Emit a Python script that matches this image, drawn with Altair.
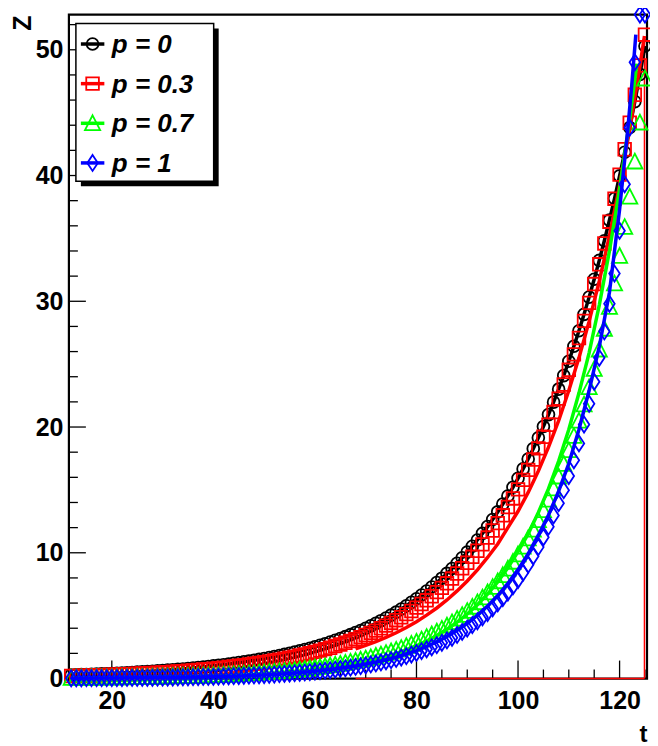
import altair as alt
import pandas as pd

# ---------------- data ----------------
T = list(range(12, 126))

black_z = [0.28, 0.29, 0.31, 0.32, 0.33, 0.35, 0.37, 0.38, 0.40, 0.42,
           0.44, 0.46, 0.48, 0.51, 0.53, 0.55, 0.58, 0.61, 0.64, 0.67,
           0.70, 0.73, 0.76, 0.80, 0.84, 0.88, 0.92, 0.96, 1.01, 1.05,
           1.10, 1.15, 1.21, 1.27, 1.33, 1.39, 1.45, 1.52, 1.59, 1.67,
           1.75, 1.83, 1.92, 2.01, 2.10, 2.20, 2.30, 2.41, 2.53, 2.65,
           2.77, 2.90, 3.04, 3.18, 3.33, 3.49, 3.65, 3.82, 4.00, 4.19,
           4.39, 4.60, 4.81, 5.04, 5.28, 5.53, 5.79, 6.06, 6.34, 6.64,
           6.96, 7.28, 7.63, 7.98, 8.36, 8.75, 9.17, 9.60, 10.05, 10.52,
           11.02, 11.54, 12.08, 12.65, 13.25, 13.87, 14.52, 15.21, 15.92, 16.67,
           17.46, 18.28, 19.14, 20.04, 20.99, 21.98, 23.01, 24.09, 25.23, 26.42,
           27.66, 28.96, 30.33, 31.75, 33.25, 34.81, 36.45, 38.17, 39.97, 41.85,
           43.82, 45.88, 48.04, 50.30]

red_z = [0.20, 0.21, 0.22, 0.23, 0.24, 0.26, 0.27, 0.28, 0.30, 0.31,
         0.33, 0.34, 0.36, 0.38, 0.40, 0.42, 0.44, 0.46, 0.49, 0.51,
         0.54, 0.56, 0.59, 0.62, 0.65, 0.68, 0.72, 0.75, 0.79, 0.83,
         0.87, 0.92, 0.96, 1.01, 1.06, 1.12, 1.17, 1.23, 1.30, 1.36,
         1.43, 1.50, 1.58, 1.66, 1.74, 1.83, 1.92, 2.01, 2.12, 2.22,
         2.34, 2.45, 2.58, 2.70, 2.84, 2.98, 3.13, 3.29, 3.46, 3.63,
         3.81, 4.00, 4.21, 4.42, 4.64, 4.87, 5.12, 5.37, 5.64, 5.93,
         6.22, 6.54, 6.87, 7.21, 7.57, 7.95, 8.35, 8.77, 9.21, 9.68,
         10.16, 10.67, 11.21, 11.77, 12.36, 12.98, 13.64, 14.32, 15.04, 15.80,
         16.59, 17.42, 18.30, 19.22, 20.18, 21.19, 22.26, 23.38, 24.55, 25.78,
         27.08, 28.44, 29.87, 31.37, 32.94, 34.60, 36.33, 38.16, 40.07, 42.09,
         44.20, 46.42, 48.75, 51.20]

green_z = [0.04, 0.05, 0.05, 0.05, 0.06, 0.06, 0.07, 0.07, 0.07, 0.08,
           0.08, 0.09, 0.09, 0.10, 0.11, 0.11, 0.12, 0.13, 0.14, 0.15,
           0.16, 0.17, 0.18, 0.19, 0.20, 0.21, 0.22, 0.24, 0.25, 0.27,
           0.29, 0.30, 0.32, 0.34, 0.37, 0.39, 0.41, 0.44, 0.47, 0.50,
           0.53, 0.56, 0.59, 0.63, 0.67, 0.71, 0.76, 0.81, 0.86, 0.91,
           0.97, 1.03, 1.09, 1.16, 1.24, 1.32, 1.40, 1.49, 1.58, 1.68,
           1.79, 1.90, 2.02, 2.15, 2.28, 2.42, 2.58, 2.74, 2.91, 3.09,
           3.29, 3.50, 3.72, 3.95, 4.20, 4.46, 4.74, 5.04, 5.36, 5.69,
           6.05, 6.43, 6.84, 7.27, 7.72, 8.21, 8.73, 9.27, 9.86, 10.48,
           11.13, 11.83, 12.58, 13.37, 14.21, 15.10, 16.05, 17.06, 18.14, 19.28,
           20.49, 21.78, 23.15, 24.60, 26.15, 27.80, 29.54, 31.40, 33.60, 35.90,
           38.30, 41.10, 44.20, 47.70]

blue_z = [0.02, 0.02, 0.02, 0.03, 0.03, 0.03, 0.03, 0.03, 0.04, 0.04,
          0.04, 0.05, 0.05, 0.05, 0.06, 0.06, 0.06, 0.07, 0.07, 0.08,
          0.08, 0.09, 0.10, 0.10, 0.11, 0.12, 0.13, 0.13, 0.14, 0.15,
          0.17, 0.18, 0.19, 0.20, 0.22, 0.23, 0.25, 0.26, 0.28, 0.30,
          0.32, 0.34, 0.37, 0.39, 0.42, 0.45, 0.48, 0.51, 0.54, 0.58,
          0.62, 0.66, 0.71, 0.76, 0.81, 0.86, 0.92, 0.98, 1.05, 1.12,
          1.20, 1.28, 1.37, 1.46, 1.56, 1.67, 1.78, 1.91, 2.04, 2.18,
          2.32, 2.48, 2.65, 2.84, 3.03, 3.24, 3.47, 3.71, 3.97, 4.25,
          4.55, 4.87, 5.21, 5.58, 5.97, 6.39, 6.84, 7.32, 7.83, 8.42,
          9.05, 9.72, 10.45, 11.23, 12.07, 12.97, 13.94, 14.98, 16.10, 17.35,
          18.70, 20.20, 21.85, 23.60, 25.50, 27.60, 29.80, 32.20, 35.60, 39.30,
          43.80, 49.00, 52.80, 52.80]

# fitted curves
black_line_t = T
black_line_z = black_z

red_line_t = [68, 70, 72, 74, 76, 78, 80, 82, 84, 86, 88, 90, 92, 94, 96, 98, 100,
              102, 104, 106, 108, 110, 112, 114, 116, 118, 120, 122, 124, 124.9]
red_line_z = [2.37, 2.64, 2.94, 3.27, 3.64, 4.06, 4.52, 5.04, 5.61, 6.25, 6.97, 7.76,
              8.64, 9.63, 10.7, 12.0, 13.3, 14.8, 16.5, 18.4, 20.5, 22.9, 25.5, 28.4,
              31.6, 35.2, 39.2, 43.7, 48.7, 51.1]

green_line_t = [12, 20, 30, 40, 44, 48, 52, 56, 60, 64, 68, 72, 76, 80, 82, 84, 86, 88,
                90, 92, 94, 96, 98, 100, 102, 104, 106, 108, 110, 112, 114, 116, 118,
                120, 122, 123.4]
green_line_z = [0.03, 0.05, 0.09, 0.18, 0.23, 0.30, 0.39, 0.52, 0.68, 0.89, 1.16, 1.52,
                1.99, 2.61, 2.99, 3.42, 3.92, 4.48, 5.13, 5.87, 6.72, 7.69, 8.80, 10.1,
                11.5, 13.2, 15.1, 17.3, 19.8, 22.7, 25.9, 29.7, 34.0, 38.9, 44.5, 48.9]

blue_line_t = [12, 20, 30, 40, 44, 48, 52, 56, 60, 64, 68, 72, 76, 80, 82, 84, 86, 88,
               90, 92, 94, 96, 98, 100, 102, 104, 106, 108, 110, 112, 114, 116, 118,
               120, 121.6, 122.4, 123.2]
blue_line_z = [0.022, 0.038, 0.076, 0.15, 0.19, 0.25, 0.33, 0.43, 0.57, 0.75, 0.98, 1.29,
               1.69, 2.22, 2.55, 2.92, 3.34, 3.83, 4.39, 5.03, 5.76, 6.60, 7.56, 8.66,
               9.92, 11.4, 13.0, 14.9, 17.1, 19.8, 22.9, 26.4, 30.7, 37.3, 43.6, 47.2, 51.2]

labels = ["p = 0", "p = 0.3", "p = 0.7", "p = 1"]
colors = ["#000000", "#ff0000", "#00ff00", "#0000ff"]

x_major = [20, 40, 60, 80, 100, 120]
x_minor = [15, 25, 30, 35, 45, 50, 55, 65, 70, 75, 85, 90, 95, 105, 110, 115, 125]
y_major = [0, 10, 20, 30, 40, 50]
y_minor = [2, 4, 6, 8, 12, 14, 16, 18, 22, 24, 26, 28, 32, 34, 36, 38, 42, 44, 46, 48, 52]

# ---------------- styling ----------------
FONT = "Liberation Sans"
W, H = 579, 665
XMIN, XMAX = 11.55, 125.4
YMIN, YMAX = 0, 52.8

xs = alt.Scale(domain=[XMIN, XMAX], nice=False, zero=False)
ys = alt.Scale(domain=[YMIN, YMAX], nice=False, zero=False)

shapes = [
    ("circle", 140),
    ("square", 160),
    ("M0,-1L0.95,0.85L-0.95,0.85Z", 256),
    ("M0,-1L0.66,0L0,1L-0.66,0Z", 256),
]

x_axis = alt.Axis(values=x_major, format="d", labelFont=FONT, labelFontSize=25,
                  labelFontWeight="bold", labelColor="black", labelPadding=10,
                  ticks=False, tickSize=0, domain=False, grid=False,
                  labelFlush=False, labelOverlap=False,
                  title="t", titleFont=FONT, titleFontSize=24, titleFontWeight="bold",
                  titleColor="black", titleAnchor="end", titleAlign="right",
                  titleX=W, titleY=63, titleBaseline="alphabetic")
y_axis = alt.Axis(values=y_major, format="d", labelFont=FONT, labelFontSize=25,
                  labelFontWeight="bold", labelColor="black", labelPadding=6,
                  ticks=False, tickSize=0, domain=False, grid=False,
                  labelFlush=False, labelOverlap=False,
                  title="Z", titleFont=FONT, titleFontSize=25, titleFontWeight="bold",
                  titleColor="black", titleAngle=270, titleAlign="center",
                  titleBaseline="middle", titleX=-46, titleY=8)


def X(field):
    return alt.X(field, type="quantitative", scale=xs, axis=x_axis)


def Y(field):
    return alt.Y(field, type="quantitative", scale=ys, axis=y_axis)


layers = []

# base layer carrying both axes
axes_df = pd.DataFrame({"t": [XMIN], "z": [YMIN]})
layers.append(alt.Chart(axes_df).mark_point(opacity=0, size=1).encode(x=X("t"), y=Y("z")))

# inside ticks
TW = 1.3
layers.append(
    alt.Chart(pd.DataFrame({"v": x_major})).mark_rule(color="black", strokeWidth=TW).encode(
        x=X("v"), y=alt.value(H), y2=alt.value(H - 18)))
layers.append(
    alt.Chart(pd.DataFrame({"v": x_minor})).mark_rule(color="black", strokeWidth=TW).encode(
        x=X("v"), y=alt.value(H), y2=alt.value(H - 9)))
layers.append(
    alt.Chart(pd.DataFrame({"v": y_major})).mark_rule(color="black", strokeWidth=TW).encode(
        y=Y("v"), x=alt.value(0), x2=alt.value(17)))
layers.append(
    alt.Chart(pd.DataFrame({"v": y_minor})).mark_rule(color="black", strokeWidth=TW).encode(
        y=Y("v"), x=alt.value(0), x2=alt.value(9)))

# red closing lines of the p = 0.3 curve
red_close = pd.DataFrame({"t0": [red_line_t[0]], "t1": [red_line_t[-1]],
                          "z0": [0], "z1": [red_line_z[-1]]})
layers.append(alt.Chart(red_close).mark_rule(color="#ff0000", strokeWidth=1.5).encode(
    x=X("t0"), x2="t1:Q", y=Y("z0")))
layers.append(alt.Chart(red_close).mark_rule(color="#ff0000", strokeWidth=1.5).encode(
    x=X("t1"), y=Y("z0"), y2="z1:Q"))

points = [black_z, red_z, green_z, blue_z]
lines = [(black_line_t, black_line_z), (red_line_t, red_line_z),
         (green_line_t, green_line_z), (blue_line_t, blue_line_z)]

for i in range(4):
    shp, sz = shapes[i]
    dfp = pd.DataFrame({"t": T, "z": points[i]})
    layers.append(alt.Chart(dfp).mark_point(shape=shp, size=sz, filled=False,
                                            strokeWidth=1.8, color=colors[i], opacity=1).encode(
        x=X("t"), y=Y("z")))
    lt, lz = lines[i]
    dfl = pd.DataFrame({"t": lt, "z": lz})
    layers.append(alt.Chart(dfl).mark_line(color=colors[i], strokeWidth=3.5).encode(
        x=X("t"), y=Y("z")))

# legend (ROOT-style box with shadow)
one = pd.DataFrame({"k": [0]})
layers.append(alt.Chart(one).mark_rect(fill="black").encode(
    x=alt.value(12), x2=alt.value(150), y=alt.value(14), y2=alt.value(172)))
layers.append(alt.Chart(one).mark_rect(fill="white", stroke="black", strokeWidth=1.5).encode(
    x=alt.value(7), x2=alt.value(145), y=alt.value(9), y2=alt.value(167)))

for i, lab in enumerate(labels):
    yy = 29.5 + i * 39.7
    shp, sz = shapes[i]
    layers.append(alt.Chart(one).mark_rule(color=colors[i], strokeWidth=3.5).encode(
        x=alt.value(12), x2=alt.value(35.5), y=alt.value(yy)))
    layers.append(alt.Chart(one).mark_point(shape=shp, size=sz, filled=False, strokeWidth=1.8,
                                            color=colors[i], opacity=1).encode(
        x=alt.value(23.7), y=alt.value(yy)))
    layers.append(alt.Chart(pd.DataFrame({"label": [lab]})).mark_text(
        align="left", baseline="middle", font=FONT, fontSize=26, fontWeight="bold",
        fontStyle="italic", color="black").encode(
        x=alt.value(43), y=alt.value(yy + 1), text="label:N"))

chart = alt.layer(*layers).properties(
    width=W, height=H,
    autosize=alt.AutoSizeParams(type="none"),
    padding={"left": 61, "top": 6, "right": 3, "bottom": 67},
    background="white",
).configure_view(stroke="black", strokeWidth=2.2)

chart.save("out.html", embed_options={"renderer": "svg", "actions": False})
